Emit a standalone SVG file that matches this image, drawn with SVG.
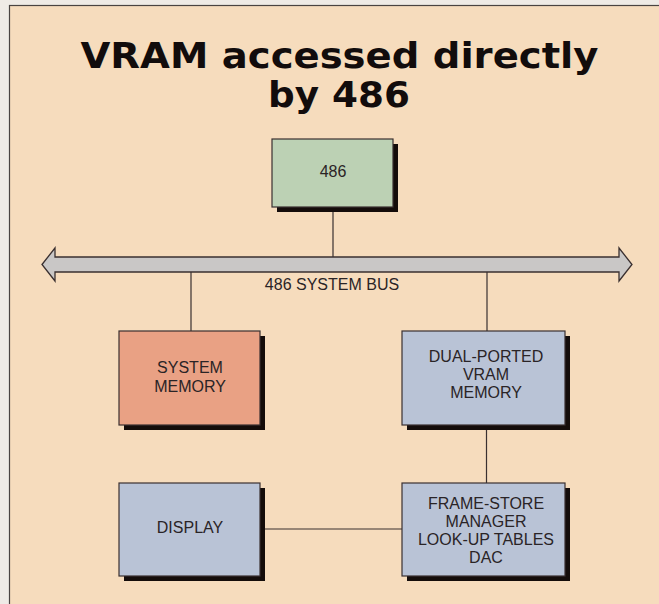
<svg xmlns="http://www.w3.org/2000/svg" width="659" height="604" viewBox="0 0 659 604">
<style>
.box{stroke:#3a3030;stroke-width:1.2}
.sh{fill:#140c0a}
.lbl{font-family:"Liberation Sans",Arial,sans-serif;font-size:16px;fill:#2a2426;text-anchor:middle}
.ttl{font-family:"DejaVu Sans","Open Sans",sans-serif;font-weight:bold;font-size:35px;fill:#120c0c;text-anchor:middle}
.ln{stroke:#3a3030;stroke-width:1.2;fill:none}
</style>
<rect x="0" y="0" width="659" height="604" fill="#efebe6"/>
<rect x="9.5" y="5.5" width="660" height="610" fill="#f6dcbd" stroke="#4a4442" stroke-width="1.2"/>
<text class="ttl" x="339.5" y="67.5" textLength="518" lengthAdjust="spacingAndGlyphs">VRAM accessed directly</text>
<text class="ttl" x="339" y="106.5" textLength="142" lengthAdjust="spacingAndGlyphs">by 486</text>
<g id="connectors">
<line class="ln" x1="333" y1="207" x2="333" y2="257"/>
<line class="ln" x1="191" y1="272" x2="191" y2="331"/>
<line class="ln" x1="487" y1="272" x2="487" y2="331"/>
<line class="ln" x1="486.5" y1="425" x2="486.5" y2="483"/>
<line class="ln" x1="265" y1="529" x2="402" y2="529"/>
</g>
<g id="bus">
<path d="M42,264.5 L55,248 L55,257 L619,257 L619,248 L632,264.5 L619,281 L619,272 L55,272 L55,281 Z" fill="#c9c7c6" stroke="#3a3030" stroke-width="1.3" stroke-linejoin="miter"/>
<text class="lbl" x="332" y="290">486 SYSTEM BUS</text>
</g>
<g id="n486">
<rect class="sh" x="277" y="144" width="121" height="68"/>
<rect class="box" x="272" y="139" width="121" height="68" fill="#bcd1b4"/>
<text class="lbl" x="333" y="177">486</text>
</g>
<g id="sysmem">
<rect class="sh" x="124" y="336" width="141" height="94"/>
<rect class="box" x="119" y="331" width="141" height="94" fill="#e9a184"/>
<text class="lbl" x="190" y="373">SYSTEM</text>
<text class="lbl" x="190" y="392">MEMORY</text>
</g>
<g id="vram">
<rect class="sh" x="407" y="336" width="163" height="94"/>
<rect class="box" x="402" y="331" width="163" height="94" fill="#b9c3d6"/>
<text class="lbl" x="486" y="362">DUAL-PORTED</text>
<text class="lbl" x="486" y="380">VRAM</text>
<text class="lbl" x="486" y="398">MEMORY</text>
</g>
<g id="display">
<rect class="sh" x="124" y="488" width="141" height="93"/>
<rect class="box" x="119" y="483" width="141" height="93" fill="#b9c3d6"/>
<text class="lbl" x="190" y="533">DISPLAY</text>
</g>
<g id="framestore">
<rect class="sh" x="407" y="488" width="163" height="93"/>
<rect class="box" x="402" y="483" width="163" height="93" fill="#b9c3d6"/>
<text class="lbl" x="486" y="509">FRAME-STORE</text>
<text class="lbl" x="486" y="527">MANAGER</text>
<text class="lbl" x="486" y="545">LOOK-UP TABLES</text>
<text class="lbl" x="486" y="563">DAC</text>
</g>
</svg>
